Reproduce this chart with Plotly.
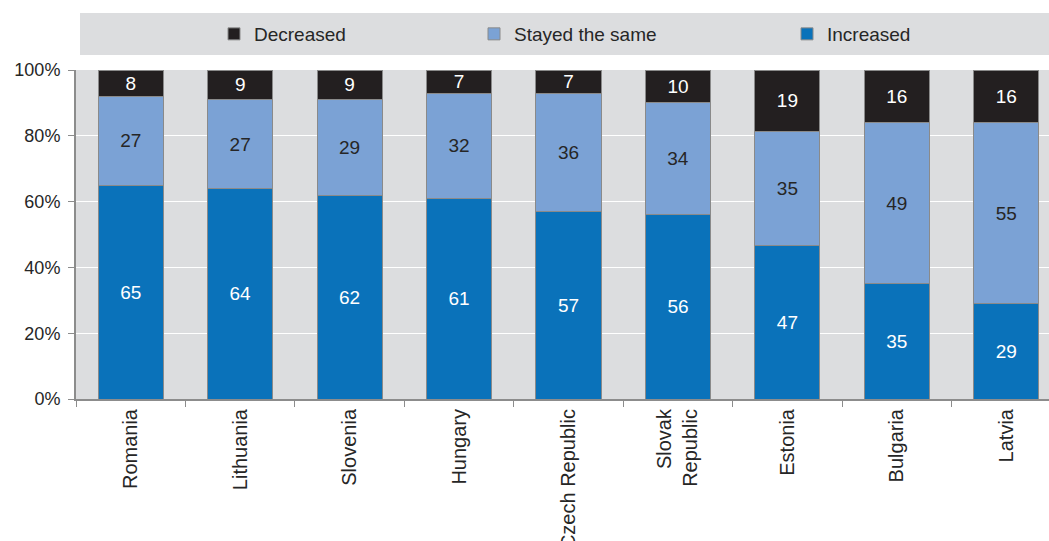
import plotly.graph_objects as go

countries = ["Romania", "Lithuania", "Slovenia", "Hungary", "Czech Republic",
             "Slovak<br>Republic", "Estonia", "Bulgaria", "Latvia"]
increased = [65, 64, 62, 61, 57, 56, 47, 35, 29]
stayed = [27, 27, 29, 32, 36, 34, 35, 49, 55]
decreased = [8, 9, 9, 7, 7, 10, 19, 16, 16]
y_ticks = [0, 20, 40, 60, 80, 100]
y_labels = ["0%", "20%", "40%", "60%", "80%", "100%"]

FONT = "Liberation Sans, Arial, sans-serif"
C_INC = "#0a72ba"
C_STAY = "#7ba2d5"
C_DEC = "#231f20"
BG = "#dcdddf"
W, H = 1049, 541
ML, MT, MB = 76, 70, 142
PW = W - ML
PH = H - MT - MB

def px_x(p):
    return (p - ML) / PW

def px_y(p):
    return (H - MB - p) / PH

fig = go.Figure()
series = [
    ("Increased", increased, C_INC, "white", "legend3"),
    ("Stayed the same", stayed, C_STAY, "#262626", "legend2"),
    ("Decreased", decreased, C_DEC, "white", "legend"),
]
for name, vals, col, tcol, leg in series:
    fig.add_trace(go.Bar(
        x=countries, y=vals, name=name, text=vals,
        texttemplate="%{text}", textposition="inside", textangle=0,
        insidetextanchor="middle", constraintext="none", showlegend=True,
        textfont=dict(color=tcol, size=19, family=FONT),
        marker=dict(color=col, line=dict(color="#8a8a8a", width=1)),
        legend=leg, hoverinfo="skip",
    ))

legend_common = dict(orientation="h", yanchor="middle", xanchor="left",
                     bgcolor="rgba(0,0,0,0)",
                     font=dict(size=19, family=FONT, color="#262626"))
fig.update_layout(
    width=W, height=H, showlegend=True,
    margin=dict(l=ML, r=0, t=MT, b=MB, autoexpand=False),
    barmode="stack", barnorm="percent", bargap=0.406,
    plot_bgcolor=BG, paper_bgcolor="white",
    font=dict(family=FONT, size=18, color="#333333"),
    uniformtext=dict(mode=False),
    legend=dict(x=px_x(214), y=px_y(34), **legend_common),
    legend2=dict(x=px_x(474), y=px_y(34), **legend_common),
    legend3=dict(x=px_x(787), y=px_y(34), **legend_common),
    xaxis=dict(
        range=[-0.5, 8.5 - (1061 - W) / 109.5],
        tickangle=-90, showgrid=False, automargin=False,
        showline=True, linecolor="#8c8c8c", linewidth=2,
        ticks="outside", tickson="boundaries", ticklen=6, tickcolor="#8c8c8c",
        tickfont=dict(size=20, family=FONT, color="#262626"),
    ),
    yaxis=dict(
        range=[0, 100], tickvals=y_ticks, ticktext=y_labels,
        showgrid=True, gridcolor="white", gridwidth=1, zeroline=False,
        showline=True, linecolor="#8c8c8c", linewidth=2, automargin=False,
        ticks="outside", ticklen=6, tickcolor="#8c8c8c", ticklabelstandoff=4,
        tickfont=dict(size=18, family=FONT, color="#262626"),
    ),
    shapes=[dict(type="rect", xref="paper", yref="paper",
                 x0=px_x(80), x1=1.0, y0=px_y(55), y1=px_y(13),
                 fillcolor=BG, line=dict(width=0), layer="below")],
)
fig.write_html("out.html")
